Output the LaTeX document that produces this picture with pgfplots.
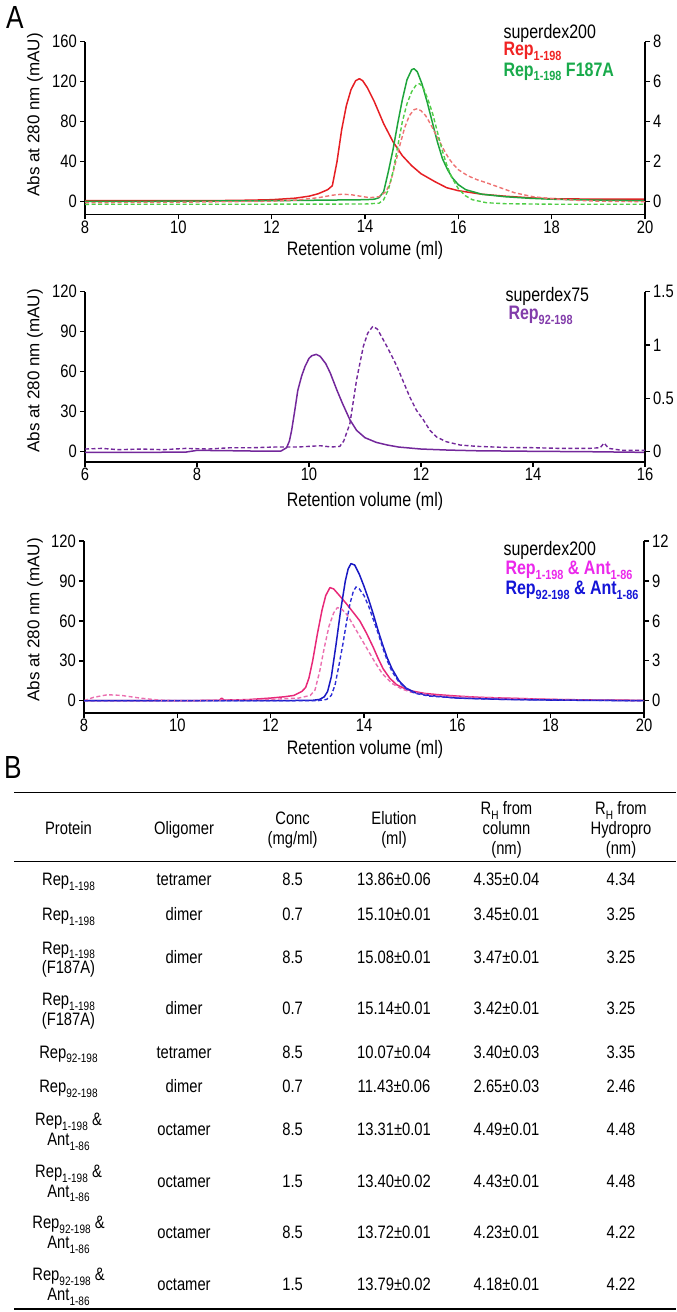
\documentclass[border=0pt]{standalone}
\usepackage{pgfplots}
\pgfplotsset{compat=1.18}
\usepackage{fontspec}
\setmainfont{Liberation Sans}[FakeStretch=0.82]
\newfontfamily\plainsans{Liberation Sans}
\definecolor{redS}{RGB}{230,30,35}
\definecolor{redD}{RGB}{238,115,115}
\definecolor{greenS}{RGB}{30,165,60}
\definecolor{greenD}{RGB}{80,205,70}
\definecolor{purp}{RGB}{115,40,155}
\definecolor{pinkS}{RGB}{232,40,120}
\definecolor{pinkD}{RGB}{235,110,175}
\definecolor{blueS}{RGB}{25,25,195}
\definecolor{blueD}{RGB}{45,45,215}
\definecolor{redT}{RGB}{240,35,35}
\definecolor{greenT}{RGB}{25,170,75}
\definecolor{purpT}{RGB}{130,60,170}
\definecolor{magT}{RGB}{235,40,235}
\definecolor{blueT}{RGB}{20,20,215}
\newcommand\fnt{\fontsize{18bp}{21bp}\selectfont}
\newcommand\lfnt{\fontsize{19.5bp}{22bp}\selectfont}
\newcommand\sub[1]{\raisebox{-0.25em}{\fontsize{0.68em}{0.7em}\selectfont #1}}
\pgfplotsset{
  gpbase/.style={scale only axis, width=560bp, anchor=south west,
    tick align=outside, major tick length=5bp,
    axis line style={line width=1.6bp, black},
    tick style={line width=1.4bp, black},
    tick label style={font=\fnt},
    /pgf/number format/assume math mode=true,
    xticklabel style={inner sep=1bp},
    yticklabel style={inner sep=3bp}},
  gpleft/.style={gpbase, axis x line*=bottom, axis y line*=left},
  gpright/.style={gpbase, axis y line*=right, axis x line=none},
  sol/.style={line width=1.5bp, line join=round},
  das/.style={line width=1.4bp, dash pattern=on 4bp off 2.5bp, line join=round},
}
\tikzset{tc/.style={anchor=base, yshift=-6.5bp, inner sep=0pt, font=\fnt}}
\newcommand\trow[7]{%
  \node[tc] at (68.5bp,-#1bp) {#2};
  \node[tc] at (184bp,-#1bp) {#3};
  \node[tc] at (292.6bp,-#1bp) {#4};
  \node[tc] at (394bp,-#1bp) {#5};
  \node[tc] at (506.5bp,-#1bp) {#6};
  \node[tc] at (621bp,-#1bp) {#7};}
\begin{document}
\begin{tikzpicture}
\useasboundingbox (0,0) rectangle (677bp,-1312bp);
% ---------------- Plot 1 ----------------
\begin{axis}[gpleft, at={(85bp,-214.3bp)}, height=172.6bp,
  xmin=8, xmax=20, ymin=-12.6, ymax=160,
  xtick={8,10,...,20}, ytick={0,40,...,160}]
\addplot[sol, redS] coordinates {(8,1)(9,1)(10,1)(11,1.2)(11.5,1.5)(12,2)(12.5,3.5)(12.8,5.5)(13,8)(13.2,12)(13.3,16)(13.4,40)(13.5,72)(13.6,96)(13.7,112)(13.8,121)(13.88,123)(13.95,121)(14.05,114)(14.2,100)(14.4,78)(14.6,60)(14.8,46)(15,36)(15.2,28)(15.5,20)(15.75,14)(16,11)(16.5,7.5)(17,5.5)(17.5,4)(18,3)(19,2.5)(20,2.5)};
\addplot[sol, greenS] coordinates {(8,0.3)(10,0.5)(12,1)(13,1.5)(14,2)(14.2,2.5)(14.3,4)(14.4,10)(14.5,30)(14.6,52)(14.7,78)(14.8,102)(14.9,122)(15,132)(15.05,133)(15.12,130)(15.22,118)(15.33,100)(15.44,80)(15.55,60)(15.66,43)(15.77,32)(15.87,24)(16,17)(16.16,12)(16.5,7.5)(17,5)(17.5,3.5)(18,2.5)(19,1.5)(20,1)};
\end{axis}
\begin{axis}[gpright, at={(85bp,-214.3bp)}, height=172.6bp,
  xmin=8, xmax=20, ymin=-0.63, ymax=8, ytick={0,2,...,8}]
\addplot[das, redD] coordinates {(8,-0.05)(10,-0.025)(12,0.025)(12.5,0.075)(13,0.2)(13.3,0.325)(13.5,0.375)(13.7,0.35)(13.9,0.275)(14.1,0.2)(14.3,0.25)(14.45,0.5)(14.55,1)(14.65,1.9)(14.75,2.85)(14.85,3.7)(14.95,4.3)(15.05,4.6)(15.12,4.65)(15.2,4.55)(15.3,4.3)(15.4,3.9)(15.5,3.45)(15.6,3)(15.7,2.55)(15.8,2.15)(15.9,1.85)(16,1.6)(16.2,1.3)(16.4,1.1)(16.6,0.95)(16.84,0.75)(17.2,0.45)(17.6,0.25)(18,0.15)(18.5,0.075)(19,0.025)(20,0)};
\addplot[das, greenD] coordinates {(8,-0.13)(12,-0.125)(14,-0.115)(14.3,-0.075)(14.4,0.1)(14.5,0.6)(14.6,1.5)(14.7,2.75)(14.8,4)(14.9,4.9)(15,5.5)(15.1,5.85)(15.17,5.9)(15.25,5.7)(15.35,5.1)(15.45,4.4)(15.55,3.5)(15.65,2.6)(15.75,1.85)(15.85,1.25)(16,0.65)(16.15,0.3)(16.3,0.1)(16.6,-0.05)(17,-0.1)(18,-0.125)(20,-0.125)};
\end{axis}
% ---------------- Plot 2 ----------------
\begin{axis}[gpleft, at={(85bp,-461.7bp)}, height=170bp,
  xmin=6, xmax=16, ymin=-7.5, ymax=120,
  xtick={6,8,...,16}, ytick={0,30,...,120}]
\addplot[sol, purp] coordinates {(6,-0.5)(7,-0.5)(7.8,-0.3)(8,1)(8.5,0.8)(9,0.5)(9.5,0.5)(9.6,3)(9.65,8)(9.69,16)(9.75,32)(9.8,46)(9.87,57)(9.93,64)(10,70)(10.05,72)(10.13,73)(10.2,71.5)(10.3,66)(10.38,59)(10.5,46)(10.6,36)(10.73,24)(10.85,16)(11,10.5)(11.2,7)(11.4,5)(11.6,3.5)(12,2)(12.5,1.2)(13,0.7)(14,0.3)(15,0)(16,-0.5)};
\end{axis}
\begin{axis}[gpright, at={(85bp,-461.7bp)}, height=170bp,
  xmin=6, xmax=16, ymin=-0.09375, ymax=1.5, ytick={0,0.5,1,1.5}]
\addplot[das, purp] coordinates {(6,0.025)(6.3,0.031)(6.6,0.019)(7,0.025)(7.4,0.019)(7.8,0.031)(8.2,0.025)(8.6,0.0375)(9,0.0375)(9.4,0.044)(9.8,0.044)(10,0.05)(10.2,0.056)(10.4,0.044)(10.55,0.05)(10.62,0.1)(10.73,0.2625)(10.85,0.675)(10.97,0.9875)(11.05,1.1125)(11.14,1.175)(11.22,1.15)(11.3,1.075)(11.39,0.9875)(11.5,0.875)(11.57,0.8)(11.7,0.6375)(11.8,0.5125)(11.92,0.3875)(12.04,0.3)(12.16,0.2)(12.28,0.1375)(12.45,0.094)(12.7,0.0625)(13,0.05)(13.5,0.04)(14,0.0375)(14.5,0.031)(15,0.031)(15.2,0.0375)(15.27,0.081)(15.35,0.031)(15.6,0.0125)(16,0.0125)};
\end{axis}
% ---------------- Plot 3 ----------------
\begin{axis}[gpleft, at={(84bp,-712.7bp)}, height=171.7bp,
  xmin=8, xmax=20, ymin=-9, ymax=120,
  xtick={8,10,...,20}, ytick={0,30,...,120}]
\addplot[sol, pinkS] coordinates {(8,0)(9,0)(10,0)(10.9,0.3)(10.95,2)(11,0.5)(11.5,0.8)(12,2)(12.3,3)(12.5,4)(12.67,7)(12.75,10)(12.82,17)(12.9,30)(13,50)(13.1,68)(13.18,79)(13.27,85)(13.35,84)(13.45,80)(13.62,73)(13.8,65)(13.91,60)(14.05,51)(14.2,40)(14.3,32)(14.41,24)(14.55,17)(14.7,12)(14.85,9.5)(15,7.5)(15.3,5.5)(15.6,4.5)(16,3.5)(16.5,2.5)(17,2)(18,1)(19,0.5)(20,0.3)};
\addplot[sol, blueS] coordinates {(8,0)(10,0)(12,0)(12.9,0.3)(13.05,1)(13.15,3)(13.22,7)(13.3,18)(13.4,42)(13.5,68)(13.6,90)(13.66,99)(13.72,103)(13.8,102)(13.9,95)(14.0,86)(14.1,76)(14.2,65)(14.3,53)(14.4,42)(14.5,32)(14.6,24)(14.75,15)(14.9,9.5)(15.1,6)(15.4,4)(15.7,3)(16,2)(17,1)(18,0.5)(20,0)};
\end{axis}
\begin{axis}[gpright, at={(84bp,-712.7bp)}, height=171.7bp,
  xmin=8, xmax=20, ymin=-0.9, ymax=12, ytick={0,3,...,12}]
\addplot[das, pinkD] coordinates {(8,0)(8.2,0.25)(8.5,0.45)(8.8,0.4)(9.2,0.2)(9.6,0.05)(10,0)(12,0.1)(12.6,0.2)(12.85,0.4)(12.95,0.8)(13.05,2.2)(13.15,4.0)(13.25,5.6)(13.35,6.6)(13.43,7.0)(13.52,6.9)(13.65,6.4)(13.8,5.5)(13.95,4.6)(14.1,3.7)(14.25,2.8)(14.4,2.0)(14.6,1.3)(14.8,0.9)(15,0.65)(15.5,0.4)(16,0.3)(17,0.2)(18,0.1)(20,0)};
\addplot[das, blueD] coordinates {(8,0)(10,0)(13,0)(13.2,0.1)(13.3,0.4)(13.38,1.2)(13.46,2.6)(13.55,4.3)(13.63,6.0)(13.7,7.3)(13.77,8.2)(13.83,8.55)(13.9,8.4)(14.0,7.9)(14.1,7.1)(14.2,6.1)(14.3,5.1)(14.4,4.0)(14.5,3.0)(14.6,2.2)(14.75,1.4)(14.9,0.9)(15.1,0.55)(15.4,0.35)(16,0.2)(17,0.1)(20,0)};
\end{axis}
% ---------------- Labels ----------------
\node[font=\fontsize{32bp}{34bp}\selectfont] at (15bp,-17bp) {A};
\node[font=\fontsize{32bp}{34bp}\selectfont] at (13bp,-767bp) {B};
\foreach \yy in {250,501.7,749} {\node[font=\fontsize{19.5bp}{22bp}\selectfont] at (365bp,-\yy bp) {Retention volume (ml)};}
\foreach \yy in {115,371,620} {\node[rotate=90, font=\plainsans\fontsize{17bp}{20bp}\selectfont] at (35bp,-\yy bp) {Abs at 280 nm (mAU)};}
% legends
\node[anchor=west, font=\lfnt] at (500bp,-33.3bp) {superdex200};
\node[anchor=west, font=\lfnt\bfseries, text=redT] at (500bp,-51.7bp) {Rep\sub{1-198}};
\node[anchor=west, font=\lfnt\bfseries, text=greenT] at (500bp,-71.7bp) {Rep\sub{1-198} F187A};
\node[anchor=west, font=\lfnt] at (502bp,-296.7bp) {superdex75};
\node[anchor=west, font=\lfnt\bfseries, text=purpT] at (505bp,-315bp) {Rep\sub{92-198}};
\node[anchor=west, font=\lfnt] at (500bp,-550bp) {superdex200};
\node[anchor=west, font=\lfnt\bfseries, text=magT] at (502bp,-570bp) {Rep\sub{1-198} \& Ant\sub{1-86}};
\node[anchor=west, font=\lfnt\bfseries, text=blueT] at (502bp,-590bp) {Rep\sub{92-198} \& Ant\sub{1-86}};
% ---------------- Table ----------------
\draw[line width=1.3bp] (14bp,-792.7bp) -- (676bp,-792.7bp);
\draw[line width=1.3bp] (14bp,-861.7bp) -- (676bp,-861.7bp);
\draw[line width=2bp] (14bp,-1309.3bp) -- (676bp,-1309.3bp);
\node[tc] at (68.5bp,-827.7bp) {Protein};
\node[tc] at (184bp,-827.7bp) {Oligomer};
\node[tc] at (292.6bp,-817.7bp) {Conc};
\node[tc] at (292.6bp,-838bp) {(mg/ml)};
\node[tc] at (394bp,-817.7bp) {Elution};
\node[tc] at (394bp,-838bp) {(ml)};
\node[tc] at (506.5bp,-808bp) {R\sub{H} from};
\node[tc] at (506.5bp,-827.7bp) {column};
\node[tc] at (506.5bp,-847.7bp) {(nm)};
\node[tc] at (621bp,-808bp) {R\sub{H} from};
\node[tc] at (621bp,-827.7bp) {Hydropro};
\node[tc] at (621bp,-847.7bp) {(nm)};
\trow{879.3}{Rep\sub{1-198}}{tetramer}{8.5}{13.86±0.06}{4.35±0.04}{4.34}
\trow{914}{Rep\sub{1-198}}{dimer}{0.7}{15.10±0.01}{3.45±0.01}{3.25}
\trow{956.7}{}{dimer}{8.5}{15.08±0.01}{3.47±0.01}{3.25}
\node[tc] at (68.5bp,-947.7bp) {Rep\sub{1-198}};
\node[tc] at (68.5bp,-966.7bp) {(F187A)};
\trow{1008.3}{}{dimer}{0.7}{15.14±0.01}{3.42±0.01}{3.25}
\node[tc] at (68.5bp,-999bp) {Rep\sub{1-198}};
\node[tc] at (68.5bp,-1019bp) {(F187A)};
\trow{1051.7}{Rep\sub{92-198}}{tetramer}{8.5}{10.07±0.04}{3.40±0.03}{3.35}
\trow{1086}{Rep\sub{92-198}}{dimer}{0.7}{11.43±0.06}{2.65±0.03}{2.46}
\trow{1129}{}{octamer}{8.5}{13.31±0.01}{4.49±0.01}{4.48}
\node[tc] at (68.5bp,-1119bp) {Rep\sub{1-198} \&};
\node[tc] at (68.5bp,-1139.3bp) {Ant\sub{1-86}};
\trow{1180.7}{}{octamer}{1.5}{13.40±0.02}{4.43±0.01}{4.48}
\node[tc] at (68.5bp,-1171bp) {Rep\sub{1-198} \&};
\node[tc] at (68.5bp,-1190.7bp) {Ant\sub{1-86}};
\trow{1232.3}{}{octamer}{8.5}{13.72±0.01}{4.23±0.01}{4.22}
\node[tc] at (68.5bp,-1222.3bp) {Rep\sub{92-198} \&};
\node[tc] at (68.5bp,-1242.3bp) {Ant\sub{1-86}};
\trow{1284}{}{octamer}{1.5}{13.79±0.02}{4.18±0.01}{4.22}
\node[tc] at (68.5bp,-1274bp) {Rep\sub{92-198} \&};
\node[tc] at (68.5bp,-1294bp) {Ant\sub{1-86}};
\end{tikzpicture}
\end{document}
